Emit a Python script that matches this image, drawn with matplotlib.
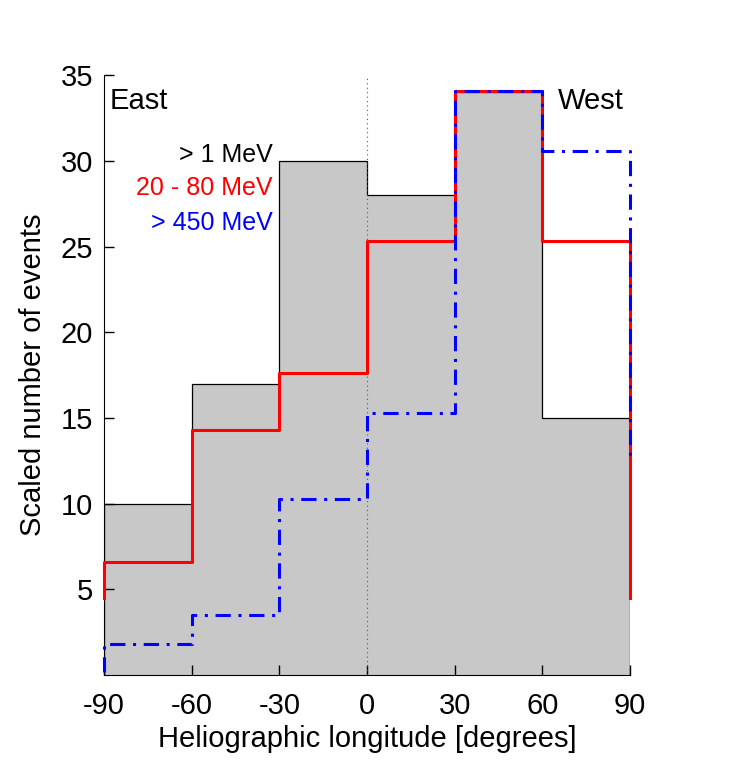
import matplotlib.pyplot as plt
import numpy as np

plt.rcParams['font.family'] = ['Liberation Sans', 'DejaVu Sans']
plt.rcParams['axes.unicode_minus'] = False

# Bin edges and histogram values
edges = [-90, -60, -30, 0, 30, 60, 90]
counts_1mev = [10, 17, 30, 28, 34, 15]
counts_20_80 = [6.6, 14.3, 17.6, 25.3, 34.1, 25.3]
counts_450 = [1.8, 3.5, 10.25, 15.3, 34.1, 30.6]

# where the step lines start / stop at the outer edges
red_ends = [4.5, 4.5]
blue_ends = [0.2, 12.4]

xticks = [-90, -60, -30, 0, 30, 60, 90]
yticks = [5, 10, 15, 20, 25, 30, 35]

fig = plt.figure(figsize=(7.3, 7.71), dpi=100)
ax = fig.add_axes([0.1425, 0.1245, 0.7205, 0.778])

# gray histogram of > 1 MeV events
ax.stairs(counts_1mev, edges, fill=True, color='#c8c8c8', zorder=1)
ax.stairs(counts_1mev, edges, baseline=0, color='black', lw=0.9, zorder=2)

# red and blue step lines
xs = np.repeat(edges, 2)[1:-1]
red_y = np.repeat(counts_20_80, 2)
blue_y = np.repeat(counts_450, 2)
ax.plot(np.r_[edges[0], xs, edges[-1]], np.r_[red_ends[0], red_y, red_ends[1]],
        color='red', lw=2.2, zorder=4, clip_on=False)
ax.plot(np.r_[edges[0], xs, edges[-1]], np.r_[blue_ends[0], blue_y, blue_ends[1]],
        color='blue', lw=2.2, ls=(0, (5, 2.5, 1, 2.5)), zorder=5, clip_on=False)

ax.axvline(0, color='#555555', lw=0.8, ls=(0, (1, 3)), zorder=3)

ax.set_xlim(-90, 90)
ax.set_ylim(0, 35)
ax.set_xticks(xticks)
ax.set_yticks(yticks)
ax.tick_params(direction='in', labelsize=21, length=7, width=1)
ax.tick_params(axis='x', pad=12)
ax.tick_params(axis='y', pad=8)
ax.spines['top'].set_visible(False)
ax.spines['right'].set_visible(False)

ax.set_xlabel('Heliographic longitude [degrees]', fontsize=21, labelpad=4)
ax.set_ylabel('Scaled number of events', fontsize=21, labelpad=10)

ax.text(-88, 33.5, 'East', fontsize=21, va='center', ha='left')
ax.text(88, 33.5, 'West', fontsize=21, va='center', ha='right')
ax.text(-32.2, 30.37, '> 1 MeV', fontsize=18, color='black', ha='right', va='center')
ax.text(-32.2, 28.4, '20 - 80 MeV', fontsize=18, color='red', ha='right', va='center')
ax.text(-32.2, 26.4, '> 450 MeV', fontsize=18, color='blue', ha='right', va='center')

plt.savefig('out.png')
